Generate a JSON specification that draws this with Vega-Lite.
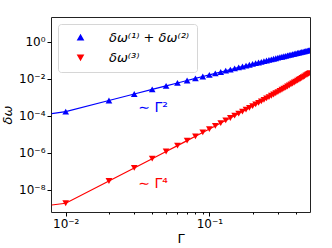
{
  "$schema": "https://vega.github.io/schema/vega-lite/v6.json",
  "width": 259,
  "height": 195,
  "autosize": {"type": "none"},
  "padding": {"left": 51, "top": 17, "right": 22, "bottom": 36},
  "background": "white",
  "config": {
    "font": "DejaVu Sans",
    "view": {"stroke": "#222222", "strokeWidth": 1},
    "axis": {"domain": false, "grid": false, "labelFont": "DejaVu Sans", "labelFontSize": 12, "labelColor": "#000000", "tickColor": "#000000", "titleFont": "DejaVu Sans", "titleFontSize": 13, "titleFontWeight": "normal", "titleColor": "#000000"}
  },
  "datasets": {
    "curves": [
      {"g": 0.008, "v": 1.3e-4, "s": "δω⁽¹⁾ + δω⁽²⁾"},
      {"g": 0.01, "v": 1.655e-4, "s": "δω⁽¹⁾ + δω⁽²⁾"},
      {"g": 0.02, "v": 6.6e-4, "s": "δω⁽¹⁾ + δω⁽²⁾"},
      {"g": 0.03, "v": 1.481e-3, "s": "δω⁽¹⁾ + δω⁽²⁾"},
      {"g": 0.04, "v": 2.624e-3, "s": "δω⁽¹⁾ + δω⁽²⁾"},
      {"g": 0.05, "v": 4.088e-3, "s": "δω⁽¹⁾ + δω⁽²⁾"},
      {"g": 0.06, "v": 5.868e-3, "s": "δω⁽¹⁾ + δω⁽²⁾"},
      {"g": 0.07, "v": 7.963e-3, "s": "δω⁽¹⁾ + δω⁽²⁾"},
      {"g": 0.08, "v": 0.010369, "s": "δω⁽¹⁾ + δω⁽²⁾"},
      {"g": 0.09, "v": 0.013083, "s": "δω⁽¹⁾ + δω⁽²⁾"},
      {"g": 0.1, "v": 0.016102, "s": "δω⁽¹⁾ + δω⁽²⁾"},
      {"g": 0.11, "v": 0.019423, "s": "δω⁽¹⁾ + δω⁽²⁾"},
      {"g": 0.12, "v": 0.023043, "s": "δω⁽¹⁾ + δω⁽²⁾"},
      {"g": 0.13, "v": 0.02696, "s": "δω⁽¹⁾ + δω⁽²⁾"},
      {"g": 0.14, "v": 0.03117, "s": "δω⁽¹⁾ + δω⁽²⁾"},
      {"g": 0.15, "v": 0.03567, "s": "δω⁽¹⁾ + δω⁽²⁾"},
      {"g": 0.16, "v": 0.040456, "s": "δω⁽¹⁾ + δω⁽²⁾"},
      {"g": 0.17, "v": 0.045527, "s": "δω⁽¹⁾ + δω⁽²⁾"},
      {"g": 0.18, "v": 0.05088, "s": "δω⁽¹⁾ + δω⁽²⁾"},
      {"g": 0.19, "v": 0.05651, "s": "δω⁽¹⁾ + δω⁽²⁾"},
      {"g": 0.2, "v": 0.062416, "s": "δω⁽¹⁾ + δω⁽²⁾"},
      {"g": 0.21, "v": 0.068594, "s": "δω⁽¹⁾ + δω⁽²⁾"},
      {"g": 0.22, "v": 0.075041, "s": "δω⁽¹⁾ + δω⁽²⁾"},
      {"g": 0.23, "v": 0.081755, "s": "δω⁽¹⁾ + δω⁽²⁾"},
      {"g": 0.24, "v": 0.088732, "s": "δω⁽¹⁾ + δω⁽²⁾"},
      {"g": 0.25, "v": 0.095969, "s": "δω⁽¹⁾ + δω⁽²⁾"},
      {"g": 0.26, "v": 0.103463, "s": "δω⁽¹⁾ + δω⁽²⁾"},
      {"g": 0.27, "v": 0.111212, "s": "δω⁽¹⁾ + δω⁽²⁾"},
      {"g": 0.28, "v": 0.119212, "s": "δω⁽¹⁾ + δω⁽²⁾"},
      {"g": 0.29, "v": 0.12746, "s": "δω⁽¹⁾ + δω⁽²⁾"},
      {"g": 0.3, "v": 0.135954, "s": "δω⁽¹⁾ + δω⁽²⁾"},
      {"g": 0.31, "v": 0.14469, "s": "δω⁽¹⁾ + δω⁽²⁾"},
      {"g": 0.32, "v": 0.153666, "s": "δω⁽¹⁾ + δω⁽²⁾"},
      {"g": 0.33, "v": 0.162877, "s": "δω⁽¹⁾ + δω⁽²⁾"},
      {"g": 0.34, "v": 0.172323, "s": "δω⁽¹⁾ + δω⁽²⁾"},
      {"g": 0.35, "v": 0.181998, "s": "δω⁽¹⁾ + δω⁽²⁾"},
      {"g": 0.36, "v": 0.191901, "s": "δω⁽¹⁾ + δω⁽²⁾"},
      {"g": 0.37, "v": 0.202029, "s": "δω⁽¹⁾ + δω⁽²⁾"},
      {"g": 0.38, "v": 0.212378, "s": "δω⁽¹⁾ + δω⁽²⁾"},
      {"g": 0.39, "v": 0.222945, "s": "δω⁽¹⁾ + δω⁽²⁾"},
      {"g": 0.4, "v": 0.233728, "s": "δω⁽¹⁾ + δω⁽²⁾"},
      {"g": 0.41, "v": 0.244723, "s": "δω⁽¹⁾ + δω⁽²⁾"},
      {"g": 0.42, "v": 0.255928, "s": "δω⁽¹⁾ + δω⁽²⁾"},
      {"g": 0.43, "v": 0.26734, "s": "δω⁽¹⁾ + δω⁽²⁾"},
      {"g": 0.44, "v": 0.278954, "s": "δω⁽¹⁾ + δω⁽²⁾"},
      {"g": 0.45, "v": 0.29077, "s": "δω⁽¹⁾ + δω⁽²⁾"},
      {"g": 0.46, "v": 0.302783, "s": "δω⁽¹⁾ + δω⁽²⁾"},
      {"g": 0.47, "v": 0.31499, "s": "δω⁽¹⁾ + δω⁽²⁾"},
      {"g": 0.48, "v": 0.327389, "s": "δω⁽¹⁾ + δω⁽²⁾"},
      {"g": 0.49, "v": 0.339977, "s": "δω⁽¹⁾ + δω⁽²⁾"},
      {"g": 0.5, "v": 0.35275, "s": "δω⁽¹⁾ + δω⁽²⁾"},
      {"g": 0.008, "v": 1.48e-9, "s": "δω⁽³⁾"},
      {"g": 0.01, "v": 1.84e-9, "s": "δω⁽³⁾"},
      {"g": 0.02, "v": 2.948e-8, "s": "δω⁽³⁾"},
      {"g": 0.03, "v": 1.4944e-7, "s": "δω⁽³⁾"},
      {"g": 0.04, "v": 4.733e-7, "s": "δω⁽³⁾"},
      {"g": 0.05, "v": 1.1586e-6, "s": "δω⁽³⁾"},
      {"g": 0.06, "v": 2.4104e-6, "s": "δω⁽³⁾"},
      {"g": 0.07, "v": 4.4828e-6, "s": "δω⁽³⁾"},
      {"g": 0.08, "v": 7.6813e-6, "s": "δω⁽³⁾"},
      {"g": 0.09, "v": 1.2366e-5, "s": "δω⁽³⁾"},
      {"g": 0.1, "v": 1.8952e-5, "s": "δω⁽³⁾"},
      {"g": 0.11, "v": 2.7917e-5, "s": "δω⁽³⁾"},
      {"g": 0.12, "v": 3.9803e-5, "s": "δω⁽³⁾"},
      {"g": 0.13, "v": 5.5217e-5, "s": "δω⁽³⁾"},
      {"g": 0.14, "v": 7.4842e-5, "s": "δω⁽³⁾"},
      {"g": 0.15, "v": 9.9438e-5, "s": "δω⁽³⁾"},
      {"g": 0.16, "v": 1.29847e-4, "s": "δω⁽³⁾"},
      {"g": 0.17, "v": 1.67003e-4, "s": "δω⁽³⁾"},
      {"g": 0.18, "v": 2.11931e-4, "s": "δω⁽³⁾"},
      {"g": 0.19, "v": 2.6576e-4, "s": "δω⁽³⁾"},
      {"g": 0.2, "v": 3.29728e-4, "s": "δω⁽³⁾"},
      {"g": 0.21, "v": 4.05188e-4, "s": "δω⁽³⁾"},
      {"g": 0.22, "v": 4.93617e-4, "s": "δω⁽³⁾"},
      {"g": 0.23, "v": 5.96623e-4, "s": "δω⁽³⁾"},
      {"g": 0.24, "v": 7.15957e-4, "s": "δω⁽³⁾"},
      {"g": 0.25, "v": 8.53516e-4, "s": "δω⁽³⁾"},
      {"g": 0.26, "v": 1.011357e-3, "s": "δω⁽³⁾"},
      {"g": 0.27, "v": 1.191708e-3, "s": "δω⁽³⁾"},
      {"g": 0.28, "v": 1.39697e-3, "s": "δω⁽³⁾"},
      {"g": 0.29, "v": 1.629736e-3, "s": "δω⁽³⁾"},
      {"g": 0.3, "v": 1.892808e-3, "s": "δω⁽³⁾"},
      {"g": 0.31, "v": 2.189191e-3, "s": "δω⁽³⁾"},
      {"g": 0.32, "v": 2.522085e-3, "s": "δω⁽³⁾"},
      {"g": 0.33, "v": 2.894985e-3, "s": "δω⁽³⁾"},
      {"g": 0.34, "v": 3.31159e-3, "s": "δω⁽³⁾"},
      {"g": 0.35, "v": 3.775873e-3, "s": "δω⁽³⁾"},
      {"g": 0.36, "v": 4.292077e-3, "s": "δω⁽³⁾"},
      {"g": 0.37, "v": 4.864737e-3, "s": "δω⁽³⁾"},
      {"g": 0.38, "v": 5.498687e-3, "s": "δω⁽³⁾"},
      {"g": 0.39, "v": 6.199078e-3, "s": "δω⁽³⁾"},
      {"g": 0.4, "v": 6.971392e-3, "s": "δω⁽³⁾"},
      {"g": 0.41, "v": 7.821458e-3, "s": "δω⁽³⁾"},
      {"g": 0.42, "v": 8.755466e-3, "s": "δω⁽³⁾"},
      {"g": 0.43, "v": 9.779986e-3, "s": "δω⁽³⁾"},
      {"g": 0.44, "v": 0.010902, "s": "δω⁽³⁾"},
      {"g": 0.45, "v": 0.0121288, "s": "δω⁽³⁾"},
      {"g": 0.46, "v": 0.0134683, "s": "δω⁽³⁾"},
      {"g": 0.47, "v": 0.0149287, "s": "δω⁽³⁾"},
      {"g": 0.48, "v": 0.0165188, "s": "δω⁽³⁾"},
      {"g": 0.49, "v": 0.0182476, "s": "δω⁽³⁾"},
      {"g": 0.5, "v": 0.020125, "s": "δω⁽³⁾"}
    ],
    "notes": [
      {"g": 0.032, "v": 2.6e-4, "t": "∼ Γ²", "s": "δω⁽¹⁾ + δω⁽²⁾"},
      {"g": 0.032, "v": 2.0e-8, "t": "∼ Γ⁴", "s": "δω⁽³⁾"}
    ]
  },
  "encoding": {
    "x": {
      "field": "g", "type": "quantitative",
      "scale": {"type": "log", "domain": [0.0079, 0.502], "nice": false},
      "axis": {
        "title": "Γ",
        "values": [0.01, 0.02, 0.03, 0.04, 0.05, 0.06, 0.07, 0.08, 0.09, 0.1, 0.2, 0.3, 0.4],
        "labelExpr": "datum.value == 0.01 ? '10⁻²' : (datum.value == 0.1 ? '10⁻¹' : '')",
        "tickSize": {"condition": {"test": "datum.value == 0.01 || datum.value == 0.1", "value": 4}, "value": 2},
        "labelPadding": 2,
        "titlePadding": 3,
        "labelFlush": false,
        "labelOverlap": false
      }
    },
    "y": {
      "field": "v", "type": "quantitative",
      "scale": {"type": "log", "domain": [6.2e-10, 21.6], "nice": false},
      "axis": {
        "title": "δω",
        "titleFontStyle": "italic",
        "values": [1e-8, 1e-6, 1e-4, 1e-2, 1],
        "labelExpr": "datum.value < 1e-7 ? '10⁻⁸' : (datum.value < 1e-5 ? '10⁻⁶' : (datum.value < 1e-3 ? '10⁻⁴' : (datum.value < 0.1 ? '10⁻²' : '10⁰')))",
        "tickSize": 4,
        "labelPadding": 2,
        "titlePadding": 4,
        "labelFlush": false,
        "labelOverlap": false
      }
    },
    "color": {"field": "s", "type": "nominal", "scale": {"domain": ["δω⁽¹⁾ + δω⁽²⁾", "δω⁽³⁾"], "range": ["#0000ff", "#ff0000"]},
      "legend": {"title": null, "orient": "none", "legendX": 7, "legendY": 7, "strokeColor": "#d6d6d6", "fillColor": "white", "cornerRadius": 3, "padding": 7, "labelFont": "DejaVu Sans", "labelFontSize": 13, "labelFontStyle": "italic", "labelColor": "#000000", "symbolSize": 26, "symbolOffset": 9, "labelOffset": 22, "rowPadding": 6, "symbolType": "triangle-up",
        "encode": {"symbols": {"update": {"size": {"value": 26}}}}}}
  },
  "layer": [
    {
      "data": {"name": "curves"},
      "mark": {"type": "line", "strokeWidth": 1.2, "clip": true},
      "encoding": {}
    },
    {
      "data": {"name": "curves"},
      "transform": [{"filter": "datum.g >= 0.01"}],
      "mark": {"type": "point", "filled": true, "opacity": 1, "size": 45, "clip": true},
      "encoding": {
        "shape": {"field": "s", "type": "nominal", "scale": {"domain": ["δω⁽¹⁾ + δω⁽²⁾", "δω⁽³⁾"], "range": ["triangle-up", "triangle-down"]},
          "legend": {"title": null, "orient": "none", "legendX": 7, "legendY": 7, "strokeColor": "#d6d6d6", "fillColor": "white", "cornerRadius": 3, "padding": 7, "labelFont": "DejaVu Sans", "labelFontSize": 13, "labelFontStyle": "italic", "labelColor": "#000000", "symbolSize": 26, "symbolOffset": 9, "labelOffset": 22, "rowPadding": 6,
            "encode": {"symbols": {"update": {"size": {"value": 26}}}}}}
      }
    },
    {
      "data": {"name": "notes"},
      "mark": {"type": "text", "align": "left", "baseline": "middle", "font": "DejaVu Sans", "fontSize": 14},
      "encoding": {
        "text": {"field": "t"}
      }
    }
  ]
}
